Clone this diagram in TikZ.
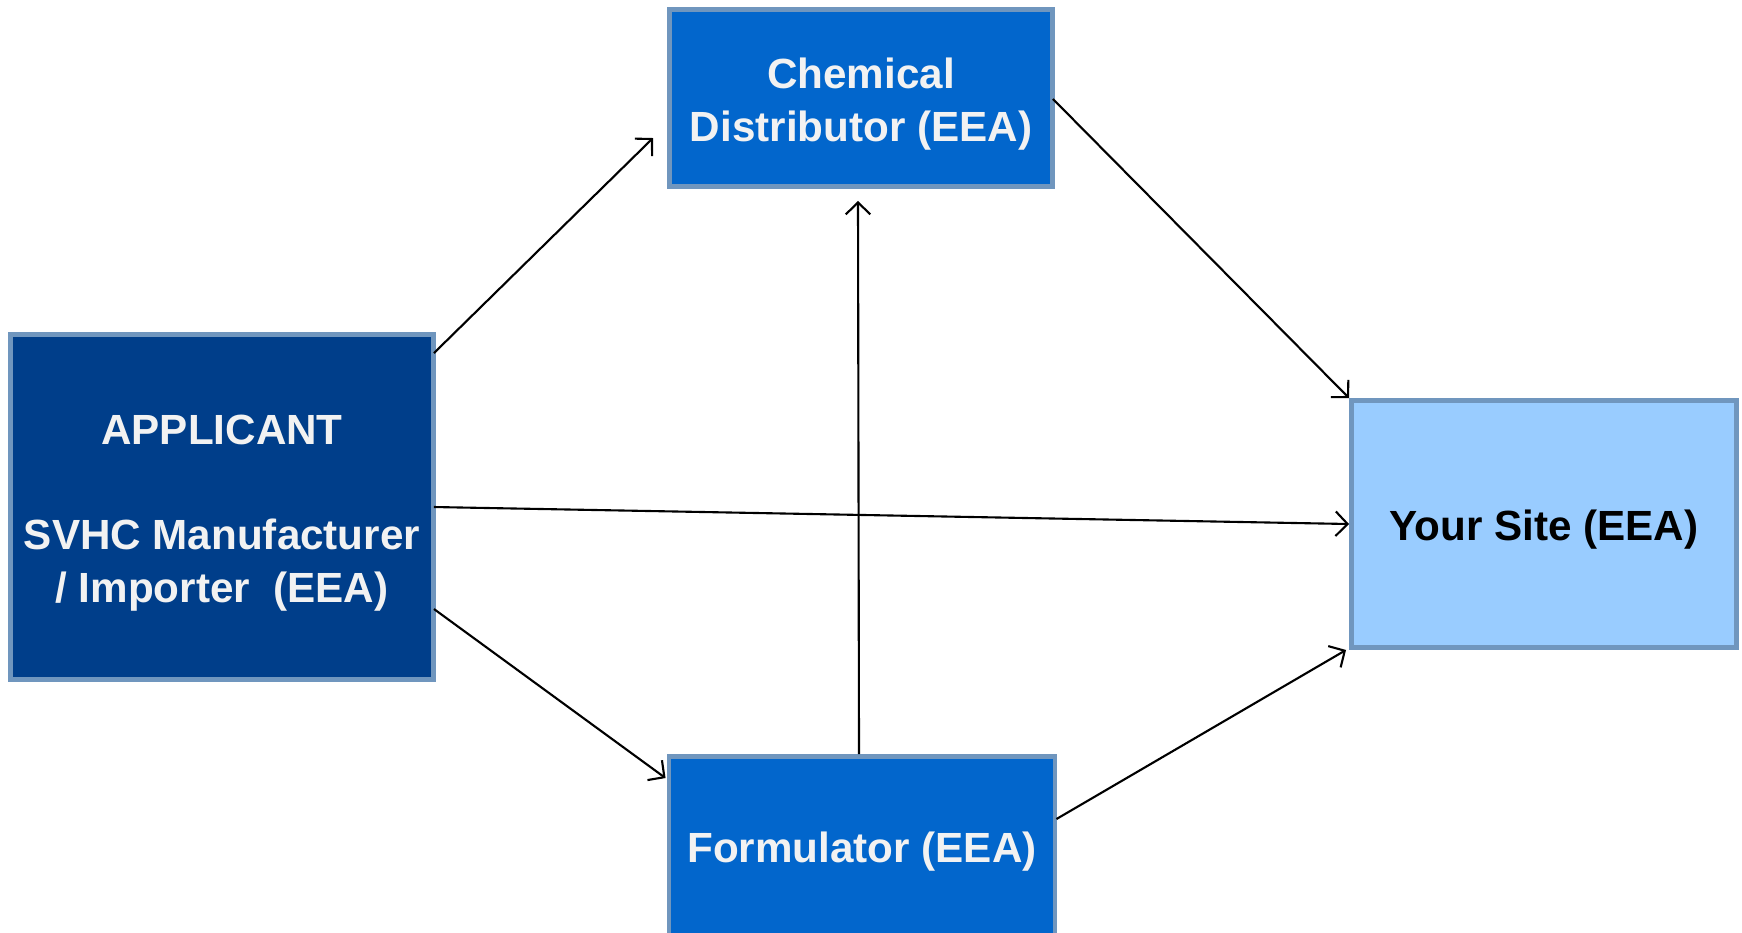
\documentclass[tikz,border=0pt]{standalone}
\usepackage{fontspec}
\setmainfont{Liberation Sans}
\usepackage{tikz}
\usetikzlibrary{calc,arrows.meta}
\tikzstyle{pixels} = [x = 0.01cm, y = -0.01cm]
\definecolor{borderColor}{RGB}{112,150,190}
\definecolor{applicantColor}{RGB}{0,62,138}
\definecolor{chainColor}{RGB}{2,102,204}
\definecolor{siteColor}{RGB}{153,204,255}
\definecolor{labelColor}{RGB}{242,242,242}
\tikzstyle{boxStyle} = [draw=borderColor, line width=1.4pt, rectangle, inner sep=0pt]
\tikzstyle{boxText} = [align=center, inner sep=0pt, yshift=-0.06cm,
  font=\fontsize{12}{15}\selectfont\bfseries, text=labelColor]
\tikzstyle{applicantBox} = [boxStyle, fill=applicantColor]
\tikzstyle{chainBox} = [boxStyle, fill=chainColor]
\tikzstyle{siteBox} = [boxStyle, fill=siteColor]
\tikzstyle{flow} = [line width=0.6pt, -{Straight Barb[length=3.4pt,width=7pt]}]
\newcommand{\pixelBox}[7]{\node [#1, minimum width=#4*0.01cm, minimum height=#5*0.01cm,
  label={[boxText, text=#6]center:{#7}}] (#2) at #3 {};}

\begin{document}
\begin{tikzpicture}[pixels]
  \useasboundingbox (0,0) rectangle (1742,932);
  \pixelBox{applicantBox}{app}{(222,507)}{423}{345}{labelColor}{APPLICANT\\[15pt]SVHC Manufacturer\\/ Importer~~(EEA)}
  \pixelBox{chainBox}{dist}{(861,98)}{383}{177}{labelColor}{Chemical\\Distributor (EEA)}
  \pixelBox{chainBox}{form}{(862,846)}{386}{179}{labelColor}{Formulator (EEA)}
  \pixelBox{siteBox}{ys}{(1544,524)}{385}{247}{black}{Your Site (EEA)}

  \draw [flow] ($(app.north east)+(-2,21)$) -- ($(dist.west)+(-14,40)$);
  \draw [flow] ($(dist.east)+(-2,1)$) -- (ys.north west);
  \draw [flow] ($(app.east)+(-2,0)$) -- (ys.west);
  \draw [flow] ($(app.east)+(-2,102)$) -- ($(form.north west)+(-1,24)$);
  \draw [flow] ($(form.north)+(-3,0)$) -- ($(dist.south)+(-3,12)$);
  \draw [flow] ($(form.east)+(-1,-27)$) -- ($(ys.south west)+(-3,0)$);
\end{tikzpicture}
\end{document}
